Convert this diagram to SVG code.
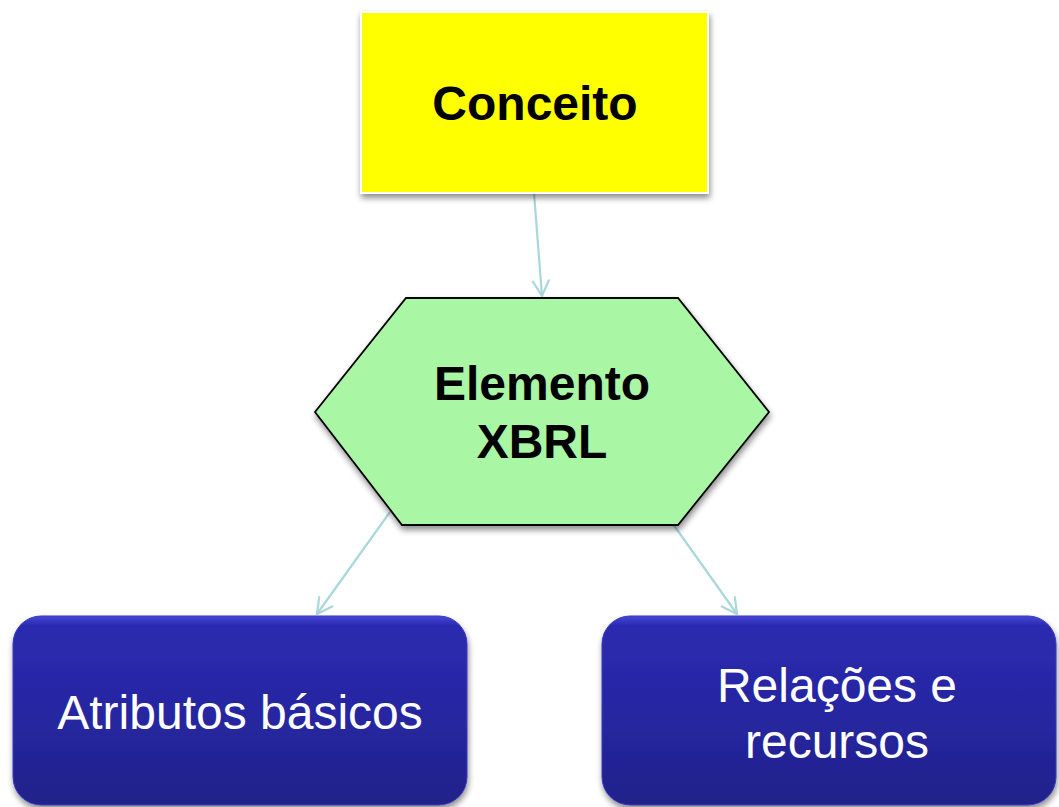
<svg xmlns="http://www.w3.org/2000/svg" width="1059" height="807" viewBox="0 0 1059 807">
<defs>
<style>
.bold{font-family:"Liberation Sans",Arial,sans-serif;font-weight:bold;font-size:48px;fill:#000;text-anchor:middle}
.wt{font-family:"Liberation Sans",Arial,sans-serif;font-size:48px;fill:#fff;text-anchor:middle}
.conn{stroke:#a9d7dc;stroke-width:2.2;fill:none}
.head{stroke:#a9d7dc;stroke-width:2.2;fill:none;stroke-linecap:round;stroke-linejoin:round}
.blue{fill:url(#bg);stroke:#3a3ac0;stroke-width:1}
</style>
<linearGradient id="bg" x1="0" y1="0" x2="0" y2="1">
<stop offset="0" stop-color="#4646d6"/>
<stop offset="0.05" stop-color="#2b2bb0"/>
<stop offset="0.5" stop-color="#2626a2"/>
<stop offset="1" stop-color="#22228a"/>
</linearGradient>
<filter id="sh" x="-10%" y="-10%" width="120%" height="130%">
<feGaussianBlur in="SourceAlpha" stdDeviation="3"/>
<feOffset dx="1" dy="4" result="b"/>
<feComponentTransfer><feFuncA type="linear" slope="0.45"/></feComponentTransfer>
<feMerge><feMergeNode/><feMergeNode in="SourceGraphic"/></feMerge>
</filter>
<marker id="arr" markerWidth="20" markerHeight="20" refX="0" refY="0" viewBox="-16 -10 18 20" orient="auto" markerUnits="userSpaceOnUse">
<path d="M-15,-8 L0,0 L-15,8" class="head"/>
</marker>
</defs>
<rect width="1059" height="807" fill="#fff"/>
<g id="connectors">
<line class="conn" x1="534" y1="193" x2="542" y2="296" marker-end="url(#arr)"/>
<line class="conn" x1="390" y1="512" x2="317" y2="614" marker-end="url(#arr)"/>
<line class="conn" x1="663" y1="510" x2="737" y2="614" marker-end="url(#arr)"/>
</g>
<g id="conceito">
<rect x="361" y="12" width="347" height="181" fill="#ffff00" stroke="#ffffff" stroke-width="2" filter="url(#sh)"/>
<text class="bold" x="535" y="120">Conceito</text>
</g>
<g id="elemento">
<polygon points="406,298 678,298 769,412 678,525 402,525 315,412" fill="#a9f7a5" stroke="#000" stroke-width="1.8" filter="url(#sh)"/>
<text class="bold" x="542" y="400">Elemento</text>
<text class="bold" x="542" y="458">XBRL</text>
</g>
<g id="atributos">
<rect class="blue" x="13" y="616" width="454" height="189" rx="28" ry="28" filter="url(#sh)"/>
<text class="wt" x="240" y="729">Atributos básicos</text>
</g>
<g id="relacoes">
<rect class="blue" x="602" y="616" width="454" height="189" rx="28" ry="28" filter="url(#sh)"/>
<text class="wt" x="837" y="702">Relações e</text>
<text class="wt" x="837" y="758">recursos</text>
</g>
</svg>
